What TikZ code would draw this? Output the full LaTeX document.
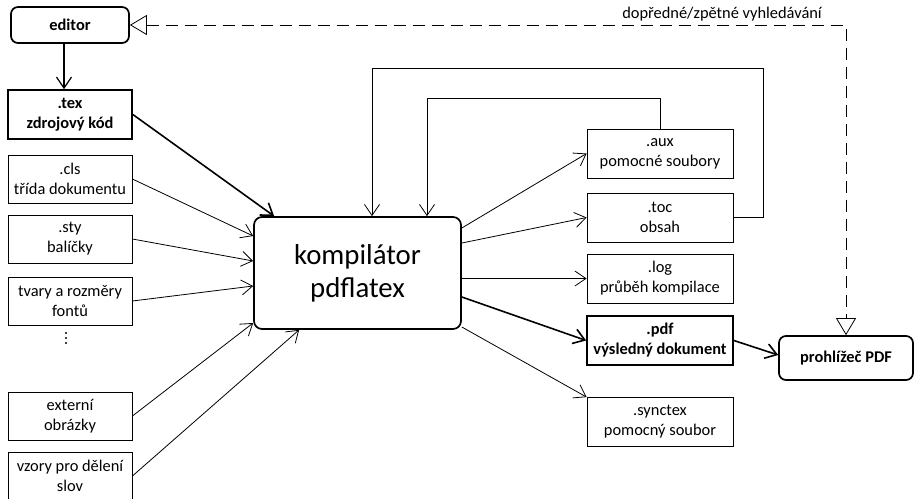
\documentclass[tikz,border=0pt]{standalone}
\usepackage{fontspec}
\setmainfont{Carlito}
\usetikzlibrary{arrows.meta,calc}
\begin{document}
\begin{tikzpicture}[x=1pt,y=-1pt,
  txt/.style={font=\fontsize{16.4}{20}\selectfont},
  filebox/.style={draw, line width=0.8pt, minimum width=124pt, minimum height=48pt,
    align=center, inner sep=0pt, txt},
  outbox/.style={filebox, minimum width=146pt, minimum height=49pt},
  keyfile/.style={line width=1.7pt, font=\fontsize{16.4}{20}\selectfont\bfseries},
  tool/.style={draw, line width=1.7pt, rounded corners=7pt, align=center, inner sep=0pt,
    font=\fontsize{16.4}{20}\selectfont\bfseries},
  flow/.style={-{Straight Barb[length=11pt,width=15pt]}, line width=0.8pt},
  mainflow/.style={flow, line width=1.6pt},
  search/.style={{Triangle[open,length=17pt,width=20pt,line width=0.8pt]}-{Triangle[open,length=17pt,width=20pt,line width=0.8pt]},
    dash pattern=on 12pt off 7pt, line width=0.8pt}
]
\useasboundingbox (0,0) rectangle (915,498);

% tools
\node[tool, minimum width=118pt, minimum height=36pt] (editor) at (70,25) {editor};
\node[tool, minimum width=134pt, minimum height=44pt] (viewer) at (846,358) {prohlížeč PDF};
\node[draw, line width=1.7pt, rounded corners=8pt, minimum width=207pt, minimum height=112pt,
  align=center, inner sep=0pt, font=\fontsize{28.8}{33}\selectfont] (comp) at (357.5,273)
  {kompilátor\\pdflatex};

% input files
\node[filebox, keyfile, minimum height=49pt] (tex) at (70,114.5) {.tex\\zdrojový kód};
\node[filebox] (cls) at (70,179) {.cls\\třída dokumentu};
\node[filebox] (sty) at (70,239) {.sty\\balíčky};
\node[filebox] (tfm) at (70,301) {tvary a rozměry\\fontů};
\node[filebox] (img) at (70,416) {externí\\obrázky};
\node[filebox] (hyph) at (70,476) {vzory pro dělení\\slov};
\foreach \yy in {333,338,343} \fill (66,\yy) circle (1.1pt);

% output files
\node[outbox] (aux) at (660,153.5) {.aux\\pomocné soubory};
\node[outbox] (toc) at (660,217.5) {.toc\\obsah};
\node[outbox] (log) at (660,278.5) {.log\\průběh kompilace};
\node[outbox, keyfile] (pdf) at (660,340.5) {.pdf\\výsledný dokument};
\node[outbox] (sync) at (660,422) {.synctex\\pomocný soubor};

% editing
\draw[mainflow, line width=1.2pt] ([xshift=-6pt]editor.south) -- ([xshift=-6pt]tex.north);

% inputs into the compiler
\draw[mainflow] (tex.east) -- ([xshift=21pt]comp.north west);
\draw[flow] (cls.east) -- ([yshift=37pt]comp.west);
\draw[flow] (sty.east) -- ([yshift=12pt]comp.west);
\draw[flow] (tfm.east) -- ([yshift=-13pt]comp.west);
\draw[flow] (img.east) -- ([yshift=-50pt]comp.west);
\draw[flow] (hyph.east) -- ([xshift=46pt]comp.south west);

% outputs of the compiler
\draw[flow] ([yshift=45pt]comp.east) -- (aux.west);
\draw[flow] ([yshift=30pt]comp.east) -- (toc.west);
\draw[flow] (comp.east |- log.west) -- (log.west);
\draw[mainflow] ([yshift=-24pt]comp.east) -- (pdf.west);
\draw[flow] ([yshift=-54pt]comp.east) -- (sync.north west);
\draw[mainflow] (pdf.east) -- ([yshift=3pt]viewer.west);

% auxiliary files read back on the next run
\draw[flow] (toc.east) -- ++(30,0) -- ++(0,-149.5) -| ([xshift=14.5pt]comp.north);
\draw[flow] (aux.north) -- ++(0,-30) -| ([xshift=69.5pt]comp.north);

% forward/inverse search
\draw[search] (editor.east) -| (viewer.north);
\node[txt, inner sep=0pt] (searchlbl) at (722,14) {dopředné/zpětné vyhledávání};
\end{tikzpicture}
\end{document}
